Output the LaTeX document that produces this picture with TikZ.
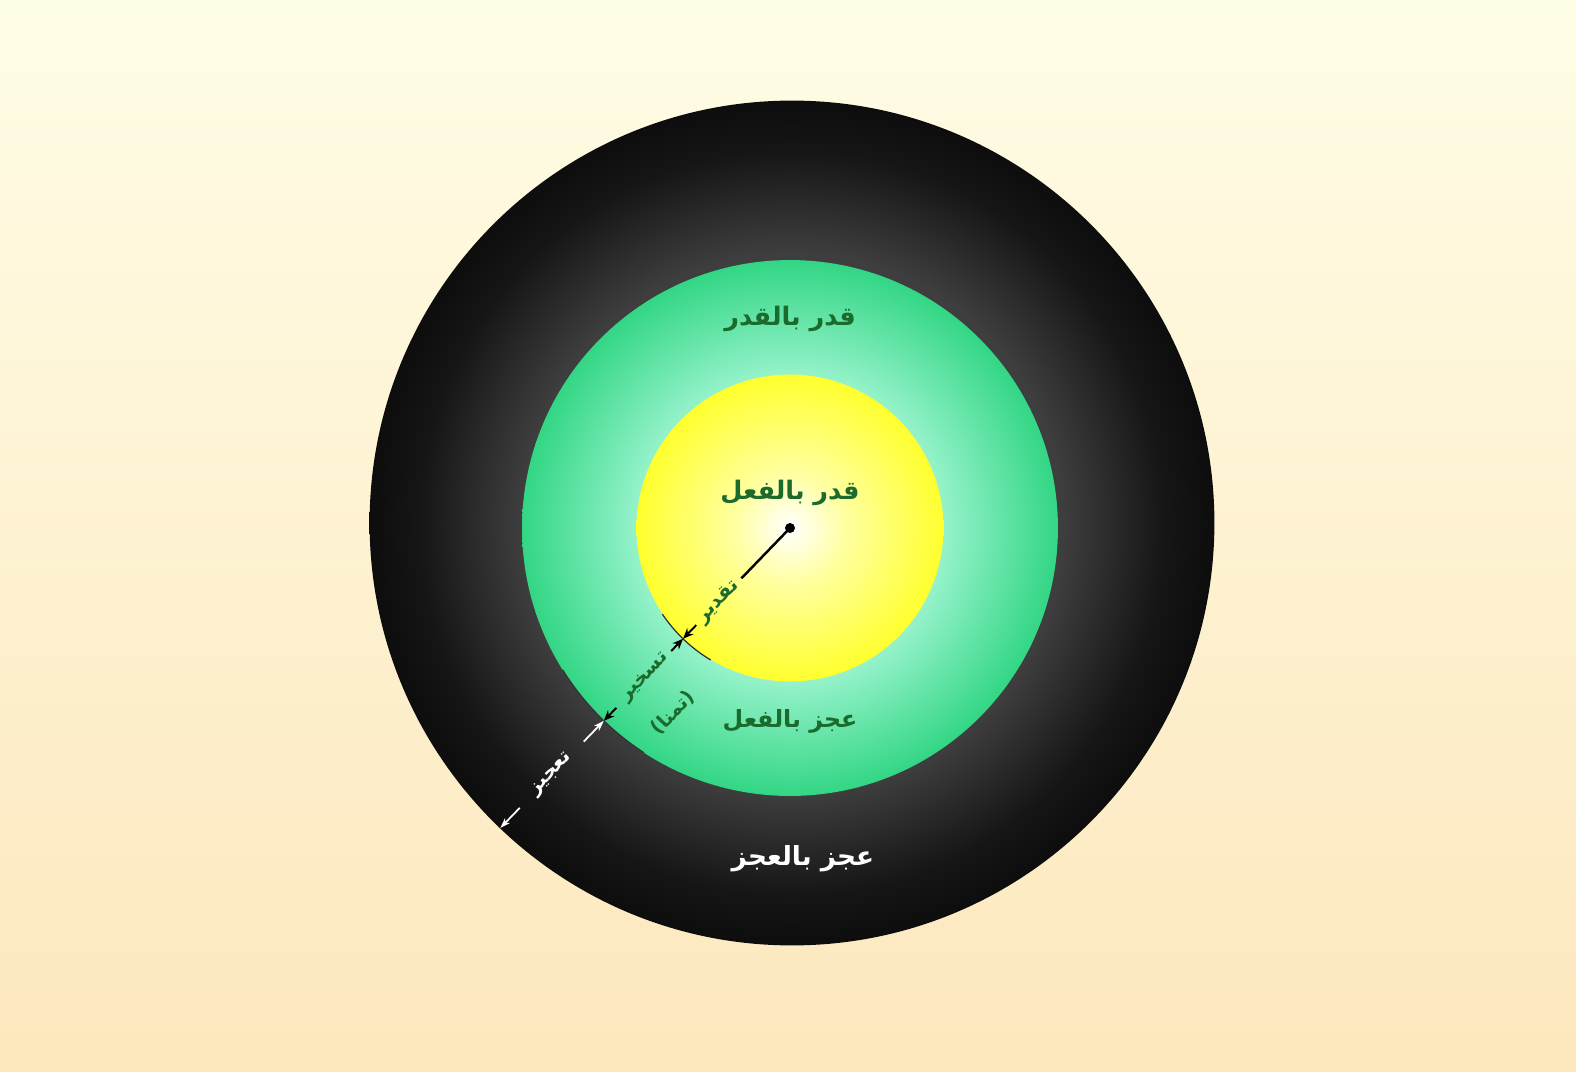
\documentclass[tikz,border=0pt]{standalone}
\usepackage{fontspec}
\usetikzlibrary{arrows.meta,calc}
\TeXXeTstate=1
\newfontfamily\arabicfont[Script=Arabic]{DejaVu Sans}
\definecolor{bgtop}{HTML}{FEFDE6}
\definecolor{bgbot}{HTML}{FDE7BD}
\definecolor{dkgreen}{HTML}{1B6B2C}
\definecolor{ringmid}{HTML}{3E3E3E}
\definecolor{ringdark}{HTML}{161616}
\definecolor{ringedge}{HTML}{0D0D0D}
\definecolor{mintc}{HTML}{C8FBE4}
\definecolor{mintm}{HTML}{98F3CC}
\definecolor{greenedge}{HTML}{33D685}
\definecolor{yellowmid}{HTML}{FFFFA0}
\definecolor{yellowedge}{HTML}{FFFF2E}
\pgfdeclareradialshading{ringshade}{\pgfpoint{0bp}{0bp}}{color(0bp)=(ringmid); color(16bp)=(ringmid); color(22bp)=(ringdark); color(25bp)=(ringedge); color(50bp)=(ringedge)}
\pgfdeclareradialshading{greenshade}{\pgfpoint{0bp}{0bp}}{color(0bp)=(mintc); color(14bp)=(mintm); color(25bp)=(greenedge); color(50bp)=(greenedge)}
\pgfdeclareradialshading{yellowshade}{\pgfpoint{0bp}{0bp}}{color(0bp)=(white); color(9bp)=(yellowmid); color(25bp)=(yellowedge); color(50bp)=(yellowedge)}
\tikzset{
  disc/.style={circle, inner sep=0pt, draw=none},
  mainlbl/.style={inner sep=1pt, text=dkgreen, font=\arabicfont\bfseries\fontsize{14.5}{17}\selectfont},
  raylbl/.style={inner sep=0pt, rotate=46, font=\arabicfont\bfseries\fontsize{11}{13}\selectfont},
  arrowblk/.style={draw=black, line width=1.1pt, -{Stealth[length=6pt,width=5pt]}},
  arrowwht/.style={draw=white, line width=1pt, -{Stealth[length=6pt,width=4pt]}},
  bnd/.style={draw=black!80, line width=0.7pt}
}
\begin{document}
\begin{tikzpicture}[x=0.02cm, y=-0.02cm]
\useasboundingbox (0,0) rectangle (1576,1072);
\fill[top color=bgtop, bottom color=bgbot] (0,0) rectangle (1576,1072);

\node[disc, minimum size=16.9cm, shading=ringshade] (outer) at (792,523) {};
\node[disc, minimum size=10.72cm, shading=greenshade] (green) at (790,528) {};
\node[disc, minimum size=6.14cm, shading=yellowshade] (yellow) at (790,528) {};

\coordinate (C) at (790,528);
% boundary highlights
\draw[bnd] ($(C)+(121:154)$) arc[start angle=121, end angle=146, radius=154];
\draw[bnd] ($(C)+(123:268)$) arc[start angle=123, end angle=148, radius=268];

% labels
\node[mainlbl] (l1) at (790,319) {\beginR قدر بالقدر\endR};
\node[mainlbl] (l2) at (790,493) {\beginR قدر بالفعل\endR};
\node[mainlbl, font=\arabicfont\bfseries\fontsize{13.5}{16}\selectfont] (l3) at (790,721) {\beginR عجز بالفعل\endR};
\node[mainlbl, text=white, font=\arabicfont\bfseries\fontsize{15}{17}\selectfont] (l4) at (803,859) {\beginR عجز  بالعجز\endR};

% ray
\node[circle, fill=black, inner sep=0pt, minimum size=0.2cm] (dot) at (C) {};
\coordinate (a1) at ($(C)+(134:70)$);
\coordinate (p1) at ($(C)+(134:135)$);
\coordinate (y1) at ($(C)+(134:154)$);
\coordinate (p2) at ($(C)+(134:171)$);
\coordinate (p3) at ($(C)+(134:250)$);
\coordinate (g1) at ($(C)+(134:268)$);
\coordinate (p4) at ($(C)+(134:297)$);
\coordinate (p5) at ($(C)+(134:389)$);
\coordinate (o1) at ($(C)+(134:417)$);
\draw[line width=1.4pt] (dot.center) -- (a1);
\draw[arrowblk] (p1) -- (y1);
\draw[arrowblk] (p2) -- (y1);
\draw[arrowblk] (p3) -- (g1);
\draw[arrowwht] (p4) -- (g1);
\draw[arrowwht] (p5) -- (o1);

\node[raylbl, text=dkgreen] (r1) at ($(C)+(134:103)$) {\beginR تقدير\endR};
\node[raylbl, text=dkgreen] (r2) at ($(C)+(134:208)$) {\beginR تسخير\endR};
\node[raylbl, text=dkgreen] (r3) at ($(C)+(134:214)+(44:44)$) {\beginR (تمنا)\endR};
\node[raylbl, text=white] (r4) at ($(C)+(134:343)$) {\beginR تعجيز\endR};
\end{tikzpicture}
\end{document}
